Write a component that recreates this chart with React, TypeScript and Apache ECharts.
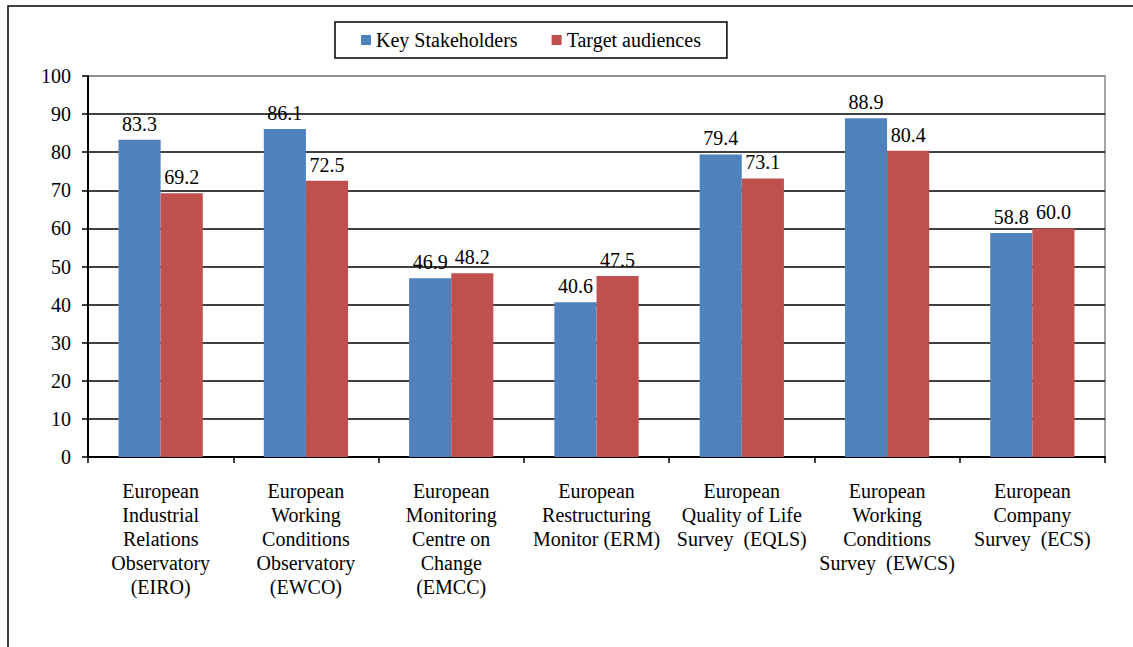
import React, { useEffect, useRef } from "react";
import * as echarts from "echarts";

const categories = [
  "European\nIndustrial\nRelations\nObservatory\n(EIRO)",
  "European\nWorking\nConditions\nObservatory\n(EWCO)",
  "European\nMonitoring\nCentre on\nChange\n(EMCC)",
  "European\nRestructuring\nMonitor (ERM)",
  "European\nQuality of Life\nSurvey  (EQLS)",
  "European\nWorking\nConditions\nSurvey  (EWCS)",
  "European\nCompany\nSurvey  (ECS)",
];
const keyStakeholders = [83.3, 86.1, 46.9, 40.6, 79.4, 88.9, 58.8];
const targetAudiences = [69.2, 72.5, 48.2, 47.5, 73.1, 80.4, 60.0];
const seriesNames = ["Key Stakeholders", "Target audiences"];

const FONT = "Liberation Serif";
const FS = 20;

export default function App() {
  const ref = useRef<HTMLDivElement>(null);
  useEffect(() => {
    document.body.style.margin = "0";
    const chart = echarts.init(ref.current!, null, { renderer: "svg" });
    const gridColors = ["#000", "#000", "#000", "#000", "#000", "#000", "#000", "#000", "#000", "#000", "#888"];
    const labelCfg = {
      show: true,
      position: "top",
      distance: 6,
      fontFamily: FONT,
      fontSize: FS,
      color: "#000",
      formatter: (p: any) => Number(p.value).toFixed(1),
    };
    chart.setOption({
      animation: false,
      backgroundColor: "#fff",
      graphic: [
        {
          type: "rect",
          shape: { x: 8, y: 6, width: 1300, height: 800 },
          style: { fill: "none", stroke: "#000", lineWidth: 1.5 },
          silent: true,
        },
      ],
      legend: {
        left: 335,
        top: 22,
        padding: [8, 26, 8, 26],
        itemWidth: 10,
        itemHeight: 10,
        itemGap: 34,
        borderColor: "#000",
        borderWidth: 1.5,
        icon: "rect",
        textStyle: { fontFamily: FONT, fontSize: FS, color: "#000" },
        data: seriesNames,
      },
      grid: {
        left: 88,
        right: 28,
        top: 76,
        bottom: 190,
        show: true,
        borderColor: "#888",
        borderWidth: 1.5,
      },
      xAxis: {
        type: "category",
        data: categories,
        axisLine: { lineStyle: { color: "#000", width: 2 } },
        axisTick: { show: true, length: 6, lineStyle: { color: "#000", width: 1.5 } },
        axisLabel: {
          interval: 0,
          margin: 22,
          fontFamily: FONT,
          fontSize: FS,
          lineHeight: 24,
          color: "#000",
          align: "center",
        },
      },
      yAxis: {
        type: "value",
        min: 0,
        max: 100,
        interval: 10,
        axisLine: { show: true, lineStyle: { color: "#000", width: 2 } },
        axisTick: { show: true, length: 6, lineStyle: { color: "#000", width: 1.5 } },
        axisLabel: { fontFamily: FONT, fontSize: FS, color: "#000", margin: 17 },
        splitLine: { show: true, lineStyle: { color: gridColors, width: 1.5 } },
      },
      series: [
        {
          name: seriesNames[0],
          type: "bar",
          data: keyStakeholders,
          barGap: "0%",
          barCategoryGap: "42%",
          itemStyle: { color: "#4F81BD" },
          label: labelCfg,
        },
        {
          name: seriesNames[1],
          type: "bar",
          data: targetAudiences,
          itemStyle: { color: "#C0504D" },
          label: labelCfg,
        },
      ],
    });
    return () => chart.dispose();
  }, []);
  return <div ref={ref} style={{ width: 1133, height: 647 }} />;
}
